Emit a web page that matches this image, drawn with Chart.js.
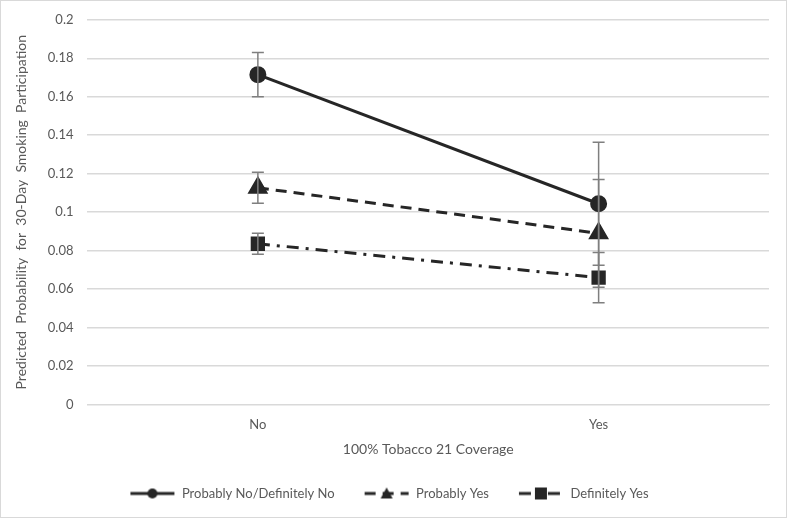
<!DOCTYPE html>
<html>
<head>
<meta charset="utf-8">
<script src="https://cdn.jsdelivr.net/npm/chart.js@4"></script>
<style>
  html, body { margin: 0; padding: 0; background: #fff; }
  #wrap { position: absolute; left: 0; top: 0; width: 785px; height: 516px; border: 1px solid #d9d9d9; overflow: hidden; }
  #chart { position: absolute; left: 0; top: -3px; }
</style>
</head>
<body>
<div id="wrap"><canvas id="chart" width="785" height="519"></canvas></div>
<script>
// chart values
const categories = ["No", "Yes"];
const seriesNames = ["Probably No/Definitely No", "Probably Yes", "Definitely Yes"];
const probNoDefNo = [0.1715, 0.1044];
const probYes = [0.1127, 0.0890];
const defYes = [0.0836, 0.0660];
// +/- error margins
const probNoDefNoErr = [0.0115, 0.032];
const probYesErr = [0.008, 0.028];
const defYesErr = [0.0055, 0.013];
const yTicks = [0, 0.02, 0.04, 0.06, 0.08, 0.1, 0.12, 0.14, 0.16, 0.18, 0.2];

const ink = "#262626";
const fontFam = "Lato, 'Open Sans', sans-serif";

// little legend swatches: line + marker
function swatch(dash, marker) {
  const c = document.createElement("canvas");
  c.width = 46; c.height = 16;
  const g = c.getContext("2d");
  g.strokeStyle = ink; g.fillStyle = ink; g.lineWidth = 3;
  g.setLineDash(dash);
  g.beginPath(); g.moveTo(1, 8); g.lineTo(45, 8); g.stroke();
  g.setLineDash([]);
  g.beginPath();
  if (marker === "circle") g.arc(23, 8, 5, 0, Math.PI * 2);
  else if (marker === "triangle") { g.moveTo(23, 2); g.lineTo(29, 13); g.lineTo(17, 13); g.closePath(); }
  else g.rect(17, 2, 12, 12);
  g.fill();
  return c;
}

const errorBars = {
  id: "errorBars",
  afterDatasetsDraw(chart) {
    const { ctx, scales } = chart;
    ctx.save();
    ctx.strokeStyle = "#7f7f7f";
    ctx.lineWidth = 1.5;
    chart.data.datasets.forEach((ds, i) => {
      const meta = chart.getDatasetMeta(i);
      meta.data.forEach((pt, j) => {
        const v = ds.data[j], e = ds.errs[j];
        const top = scales.y.getPixelForValue(v + e);
        const bot = scales.y.getPixelForValue(v - e);
        const x = pt.x;
        ctx.beginPath();
        ctx.moveTo(x, top); ctx.lineTo(x, bot);
        ctx.moveTo(x - 6, top); ctx.lineTo(x + 6, top);
        ctx.moveTo(x - 6, bot); ctx.lineTo(x + 6, bot);
        ctx.stroke();
      });
    });
    ctx.restore();
  }
};

function makeSet(label, data, errs, dash, marker, radius) {
  return {
    label: label,
    data: data,
    errs: errs,
    borderColor: ink,
    backgroundColor: ink,
    borderWidth: 3,
    borderDash: dash,
    pointStyle: marker === "square" ? "rect" : marker,
    pointRadius: radius,
    pointHoverRadius: radius,
    legendSwatch: swatch(dash, marker),
    tension: 0
  };
}

new Chart(document.getElementById("chart"), {
  type: "line",
  data: {
    labels: categories,
    datasets: [
      makeSet(seriesNames[0], probNoDefNo, probNoDefNoErr, [], "circle", 7),
      makeSet(seriesNames[1], probYes, probYesErr, [11, 7], "triangle", 9),
      makeSet(seriesNames[2], defYes, defYesErr, [12, 7, 3, 7], "square", 8)
    ]
  },
  options: {
    responsive: false,
    animation: false,
    layout: { padding: { left: 8, right: 17, top: 4, bottom: 7 } },
    plugins: {
      tooltip: { enabled: false },
      legend: {
        position: "bottom",
        labels: {
          color: "#595959",
          font: { family: fontFam, size: 13 },
          usePointStyle: true,
          pointStyleWidth: 46,
          padding: 29,
          generateLabels(chart) {
            return chart.data.datasets.map((ds, i) => ({
              text: ds.label,
              pointStyle: ds.legendSwatch,
              fontColor: "#595959",
              strokeStyle: ink,
              fillStyle: ink,
              datasetIndex: i
            }));
          }
        }
      }
    },
    scales: {
      x: {
        offset: true,
        grid: { display: false },
        border: { color: "#d9d9d9" },
        ticks: { color: "#595959", font: { family: fontFam, size: 13 }, padding: 4 },
        title: { display: true, text: "100% Tobacco 21 Coverage", color: "#595959", font: { family: fontFam, size: 14 }, padding: { top: 5, bottom: 0 } }
      },
      y: {
        min: 0,
        max: 0.2,
        afterBuildTicks(axis) { axis.ticks = yTicks.map(v => ({ value: v })); },
        grid: { color: "#d9d9d9", lineWidth: 1.5, drawTicks: false },
        border: { display: false },
        ticks: {
          color: "#595959",
          font: { family: fontFam, size: 13 },
          padding: 14,
          callback: v => String(+Number(v).toFixed(2))
        },
        title: { display: true, text: "Predicted  Probability  for  30-Day  Smoking  Participation", color: "#595959", font: { family: fontFam, size: 14 }, padding: { bottom: 4 } }
      }
    }
  },
  plugins: [errorBars]
});
</script>
</body>
</html>
